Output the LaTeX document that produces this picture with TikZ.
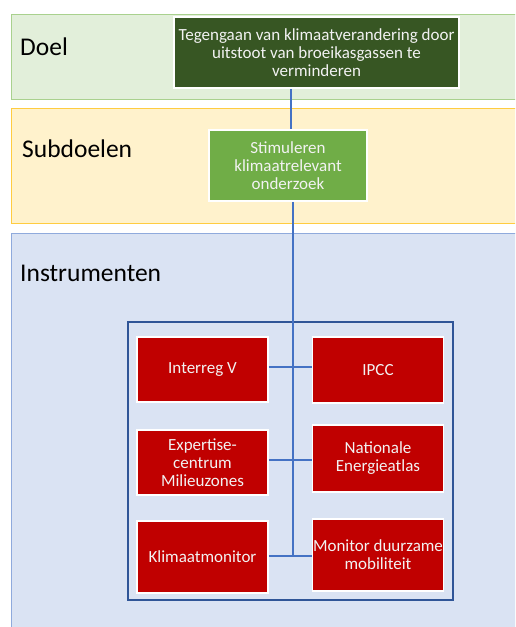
\documentclass[tikz,border=0pt]{standalone}
\usepackage{fontspec}
\setmainfont{Carlito}
\usepackage{xcolor}
\definecolor{DoelFill}{RGB}{226,239,218}
\definecolor{DoelLine}{RGB}{169,209,142}
\definecolor{SubFill}{RGB}{255,242,204}
\definecolor{SubLine}{RGB}{255,204,64}
\definecolor{InstrFill}{RGB}{218,227,243}
\definecolor{InstrLine}{RGB}{143,170,220}
\definecolor{GoalCol}{RGB}{55,86,35}
\definecolor{SubCol}{RGB}{112,173,71}
\definecolor{RedCol}{RGB}{192,0,0}
\definecolor{LinkCol}{RGB}{68,114,196}
\definecolor{FrameCol}{RGB}{47,85,151}
\usepackage{tikz}
\tikzstyle{BandLabel}=[anchor=west,inner sep=0pt,font=\fontsize{25.5}{28}\selectfont]
\tikzstyle{Box}=[rectangle,draw=white,line width=1.5pt,text=white!95!black,align=center,
inner sep=0pt,font=\fontsize{17}{18}\selectfont]
\tikzstyle{Goal}=[Box,fill=GoalCol]
\tikzstyle{SubGoal}=[Box,fill=SubCol]
\tikzstyle{Instr}=[Box,fill=RedCol,minimum width=131pt]
\tikzstyle{Edge}=[draw=LinkCol,line width=1.8pt]
\tikzstyle{Frame}=[draw=FrameCol,line width=1.8pt]

\begin{document}
\begin{tikzpicture}[x=1pt,y=-1pt]
        \useasboundingbox (0,0) rectangle (515,627);
        \clip (0,0) rectangle (515,627);
        % bands
        \draw[fill=DoelFill,draw=DoelLine,line width=1pt](11,14)rectangle(530,99);
        \draw[fill=SubFill,draw=SubLine,line width=1pt](11,108)rectangle(530,223);
        \draw[fill=InstrFill,draw=InstrLine,line width=1pt](11,233)rectangle(530,640);
        \node[BandLabel](doel)at(20,47){Doel};
        \node[BandLabel](subdoelen)at(22,149){Subdoelen};
        \node[BandLabel](instrumenten)at(20,273){Instrumenten};
        % goals
        \node[Goal,minimum width=285pt,minimum height=71pt](goal)at(316.5,52.5)
            {Tegengaan van klimaatverandering door\\uitstoot van broeikasgassen te\\verminderen};
        \node[SubGoal,minimum width=158pt,minimum height=71pt](sub)at(288,165.5)
            {Stimuleren\\klimaatrelevant\\onderzoek};
        % instruments
        \draw[Frame](128,322)rectangle(453,600);
        \node[Instr,minimum height=65pt](interreg)at(202.5,369.5){Interreg V};
        \node[Instr,minimum height=66pt](ipcc)at(378,370){IPCC};
        \node[Instr,minimum height=65pt](expertise)at(202.5,462.5){Expertise-\\centrum\\Milieuzones};
        \node[Instr,minimum height=67pt](atlas)at(378,458.5){Nationale\\Energieatlas};
        \node[Instr,minimum height=72pt](klimaat)at(202.5,557){Klimaatmonitor};
        \node[Instr,minimum height=72pt](mobiliteit)at(378,555){Monitor duurzame\\mobiliteit};
        \coordinate(t1)at(291,0);
        \coordinate(t2)at(293,0);
        \coordinate(end)at(293,556);
        \draw[Edge](goal.south-|t1)--(sub.north-|t1);
        \draw[Edge](sub.south-|t2)--(end);
        \draw[Edge](interreg.east|-0,367)--(ipcc.west|-0,367);
        \draw[Edge](expertise.east|-0,460)--(atlas.west|-0,460);
        \draw[Edge](klimaat.east|-end)--(mobiliteit.west|-end);
    \end{tikzpicture}
\end{document}
